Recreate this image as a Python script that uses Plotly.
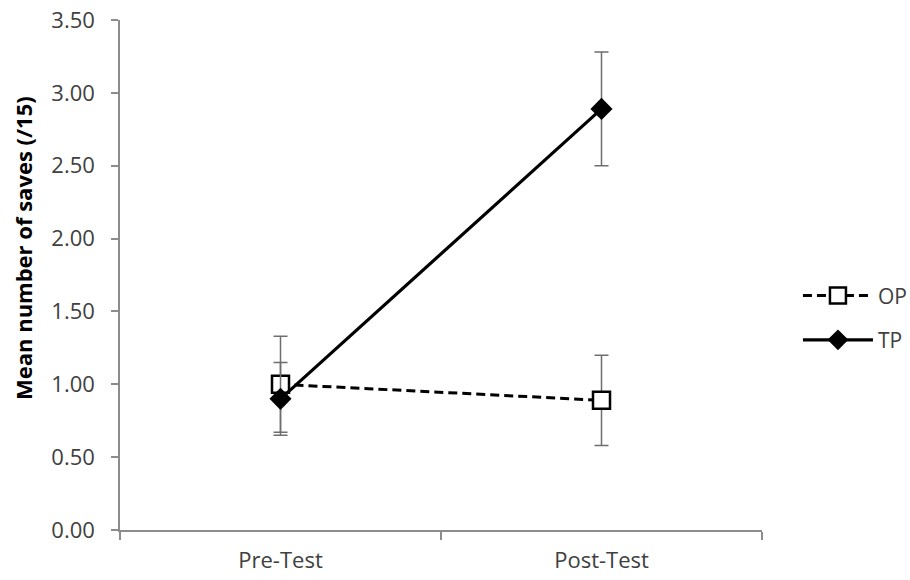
import plotly.graph_objects as go

categories = ["Pre-Test", "Post-Test"]
op_mean = [1.00, 0.89]
op_err = [0.33, 0.31]
tp_mean = [0.90, 2.89]
tp_err = [0.25, 0.39]
y_ticks = [0, 0.5, 1.0, 1.5, 2.0, 2.5, 3.0, 3.5]

FONT = "Open Sans"
AX = "#8c8c8c"
TXT = "#404040"

fig = go.Figure()
fig.add_trace(go.Scatter(
    x=categories, y=op_mean, name="OP", mode="lines+markers", legendgroup="op",
    line=dict(color="black", width=3, dash="9px,5px"),
    marker=dict(symbol="square", size=17, color="white", line=dict(color="black", width=2.5)),
    error_y=dict(type="data", array=op_err, visible=True, color="#6e6e6e", thickness=1.5, width=7),
))
fig.add_trace(go.Scatter(
    x=categories, y=tp_mean, name="TP", mode="lines+markers", legendgroup="tp",
    line=dict(color="black", width=3.2),
    marker=dict(symbol="diamond", size=17, color="black", line=dict(color="black", width=0)),
    error_y=dict(type="data", array=tp_err, visible=True, color="#6e6e6e", thickness=1.5, width=7),
))

fig.update_layout(
    width=910, height=580, autosize=False,
    margin=dict(l=120, r=148, t=20, b=50, autoexpand=False),
    paper_bgcolor="white", plot_bgcolor="white",
    font=dict(family=FONT, size=22, color=TXT),
    showlegend=True,
    legend=dict(x=1.056, y=0.416, xanchor="left", yanchor="middle",
                font=dict(family=FONT, size=21, color=TXT),
                itemwidth=70, tracegroupgap=14, bgcolor="rgba(0,0,0,0)"),
    xaxis=dict(type="category", range=[-0.5, 1.5], tickson="boundaries",
               showline=True, linecolor=AX, linewidth=1.5,
               ticks="outside", ticklen=8, tickcolor=AX, tickwidth=1.5,
               showgrid=False, zeroline=False, automargin=False,
               ticklabelstandoff=10, ticklabeloverflow="allow",
               tickfont=dict(family=FONT, size=22, color=TXT)),
    yaxis=dict(range=[0, 3.5], tickvals=y_ticks, tickformat=".2f",
               showline=True, linecolor=AX, linewidth=1.5,
               ticks="outside", ticklen=7, tickcolor=AX, tickwidth=1.5,
               showgrid=False, zeroline=False, automargin=False,
               ticklabelstandoff=12, ticklabeloverflow="allow",
               tickfont=dict(family=FONT, size=22, color=TXT)),
)
fig.add_annotation(
    text="<b>Mean number of saves (/15)</b>", textangle=-90,
    xref="paper", yref="paper", x=-0.151, y=0.553, xanchor="center", yanchor="middle",
    showarrow=False, font=dict(family=FONT, size=22, color="black"),
)
fig.write_html(
    "out.html",
    config={"displayModeBar": False},
    post_script="document.body.style.margin='0';document.documentElement.style.overflow='hidden';",
)
